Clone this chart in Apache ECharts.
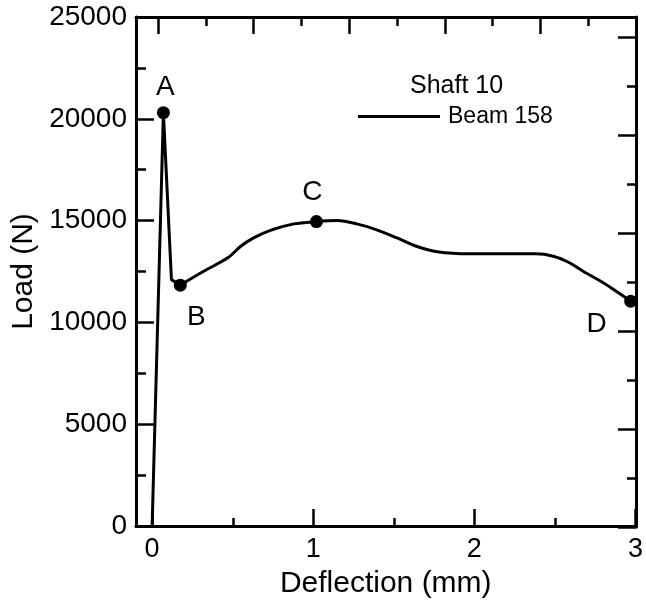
<!DOCTYPE html>
<html>
<head>
<meta charset="utf-8">
<script src="https://cdn.jsdelivr.net/npm/echarts@6/dist/echarts.min.js"></script>
<style>
html,body{margin:0;padding:0;background:#fff;}
#c{width:646px;height:604px;}
</style>
</head>
<body>
<div id="c"></div>
<script>
// ---- data ----
var riseX = [0, 0.07, 0.12, 0.175];
var riseY = [0, 20300, 12100, 11830];
var curveX = [0.175, 0.32, 0.47, 0.55, 0.63, 0.73, 0.88, 1.02, 1.15, 1.27, 1.39, 1.52, 1.64, 1.77, 1.97, 2.18, 2.38, 2.49, 2.59, 2.69, 2.8, 2.88, 2.97];
var curveY = [11830, 12510, 13170, 13740, 14150, 14510, 14840, 14950, 15000, 14840, 14560, 14150, 13740, 13470, 13370, 13370, 13370, 13250, 12930, 12440, 11950, 11530, 11040];
var pointX = [0.07, 0.175, 1.02, 2.97];
var pointY = [20300, 11830, 14950, 11040];
var pointNames = ['A', 'B', 'C', 'D'];
var xTickValues = [0, 1, 2, 3];
var xMinorTickValues = [0.5, 1.5, 2.5];
var seriesName = 'Beam 158';
var legendTitle = 'Shaft 10';
var xTitle = 'Deflection (mm)';
var yTitle = 'Load (N)';

// ---- styles ----
var FONT = "'Liberation Sans', Arial, sans-serif";
var labelOffsets = { A: [2, -25], B: [16, 32], C: [-4, -29], D: [-34, 23] };
var gridBox = { left: 136, top: 17, right: 10, bottom: 77 };
var lineW = 3;

function zip(xs, ys) { return xs.map(function (x, i) { return [x, ys[i]]; }); }

var chart = echarts.init(document.getElementById('c'), null, { renderer: 'canvas' });

var option = {
  animation: false,
  backgroundColor: '#fff',
  title: {
    text: legendTitle, left: 410, top: 74, padding: 0,
    textStyle: { fontFamily: FONT, fontSize: 25, fontWeight: 'normal', color: '#000' }
  },
  legend: {
    data: [seriesName], left: 358, top: 105, padding: 0,
    icon: 'rect', itemWidth: 82, itemHeight: 3,
    itemStyle: { color: '#000' },
    textStyle: { fontFamily: FONT, fontSize: 23, color: '#000', padding: [0, 0, 0, 3] }
  },
  grid: [
    Object.assign({ containLabel: false }, gridBox),
    Object.assign({ containLabel: false }, gridBox),
    Object.assign({ containLabel: false }, gridBox)
  ],
  xAxis: [
    {
      type: 'value', gridIndex: 0, position: 'bottom', min: -0.1, max: 3,
      name: xTitle, nameLocation: 'middle', nameGap: 43,
      nameTextStyle: { fontFamily: FONT, fontSize: 30, color: '#000' },
      axisLine: { show: true, onZero: false, lineStyle: { color: '#000', width: lineW } },
      axisTick: { show: true, inside: true, length: 17, customValues: xTickValues, lineStyle: { color: '#000', width: 2.5 } },
      axisLabel: { show: true, customValues: xTickValues, margin: 10, fontFamily: FONT, fontSize: 27, color: '#000' },
      splitLine: { show: false }
    },
    {
      type: 'value', gridIndex: 1, position: 'top', inverse: true, min: 0, max: 5.23, interval: 1,
      axisLine: { show: true, onZero: false, lineStyle: { color: '#000', width: lineW } },
      axisTick: { show: true, inside: true, length: 17, lineStyle: { color: '#000', width: 2.5 } },
      minorTick: { show: true, splitNumber: 2, length: 9, lineStyle: { color: '#000', width: 2.5 } },
      axisLabel: { show: false }, splitLine: { show: false }
    },
    {
      type: 'value', gridIndex: 2, position: 'bottom', min: -0.1, max: 3,
      axisLine: { show: false },
      axisTick: { show: true, inside: true, length: 9, customValues: xMinorTickValues, lineStyle: { color: '#000', width: 2.5 } },
      axisLabel: { show: false }, splitLine: { show: false }
    }
  ],
  yAxis: [
    {
      type: 'value', gridIndex: 0, position: 'left', min: 0, max: 25000, interval: 5000,
      name: yTitle, nameLocation: 'middle', nameGap: 89, nameRotate: 90,
      nameTextStyle: { fontFamily: FONT, fontSize: 30, color: '#000' },
      axisLine: { show: true, onZero: false, lineStyle: { color: '#000', width: lineW } },
      axisTick: { show: true, inside: true, length: 18, lineStyle: { color: '#000', width: 2.5 } },
      minorTick: { show: true, splitNumber: 2, length: 10, lineStyle: { color: '#000', width: 2.5 } },
      axisLabel: {
        show: true, margin: 9, fontFamily: FONT, fontSize: 28, color: '#000',
        formatter: function (v) { return String(v); }
      },
      splitLine: { show: false }
    },
    {
      type: 'value', gridIndex: 1, position: 'right', min: 0, max: 5.211, interval: 1,
      axisLine: { show: true, onZero: false, lineStyle: { color: '#000', width: lineW } },
      axisTick: { show: true, inside: true, length: 18, lineStyle: { color: '#000', width: 2.5 } },
      minorTick: { show: true, splitNumber: 2, length: 9, lineStyle: { color: '#000', width: 2.5 } },
      axisLabel: { show: false }, splitLine: { show: false }
    },
    { type: 'value', gridIndex: 2, min: 0, max: 1, show: false }
  ],
  series: [
    {
      name: seriesName, type: 'line', xAxisIndex: 0, yAxisIndex: 0,
      data: zip(riseX, riseY), smooth: false, symbol: 'none',
      lineStyle: { color: '#000', width: lineW }, itemStyle: { color: '#000' }, z: 3
    },
    {
      name: seriesName, type: 'line', xAxisIndex: 0, yAxisIndex: 0,
      data: zip(curveX, curveY), smooth: 0.3, symbol: 'none',
      lineStyle: { color: '#000', width: lineW }, itemStyle: { color: '#000' }, z: 3
    },
    {
      name: 'points', type: 'scatter', xAxisIndex: 0, yAxisIndex: 0,
      symbol: 'circle', symbolSize: 13, itemStyle: { color: '#000', opacity: 1 }, z: 4,
      data: pointX.map(function (x, i) {
        return {
          value: [x, pointY[i]], name: pointNames[i],
          label: {
            show: true, position: 'inside', offset: labelOffsets[pointNames[i]],
            formatter: pointNames[i], fontFamily: FONT, fontSize: 28, color: '#000', opacity: 1
          }
        };
      })
    }
  ]
};
chart.setOption(option);
</script>
</body>
</html>
